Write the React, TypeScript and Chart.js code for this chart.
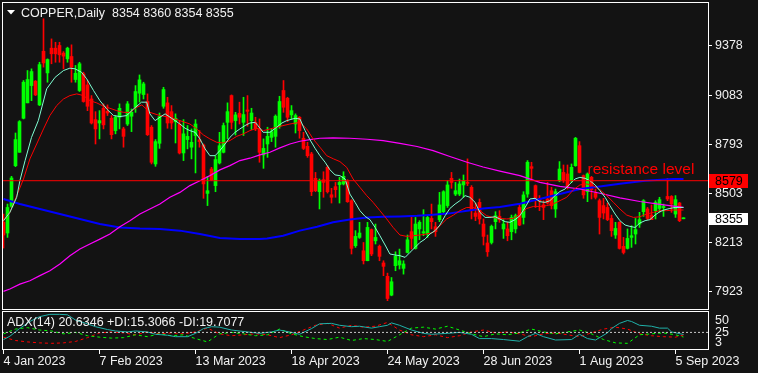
import React, { useEffect, useRef } from "react";
import { Chart, registerables } from "chart.js";

Chart.register(...registerables);

const FONT = "'Liberation Sans', 'DejaVu Sans', sans-serif";
const BG = "#131313";
const TEXT = "#f2f2f2";
const UP = "#00ff00";
const DOWN = "#ff0000";

const symbolTitle = "COPPER,Daily";
const adxTitle = "ADX(14) 20.6346 +DI:15.3066 -DI:19.7077";
const resistanceLabel = "resistance level";
const resistanceLevel = 8579;
const resistanceLabelBar = 146;

const X_MIN = -0.375;
const X_MAX = 176.375;

const opens = [8333,8270,8427,8668,8747,8948,9039,9141,9167,9027, 9344,9216,9362,9362,9378,9333,9299,9313,9177,9112, 9210,9145,9062,8940,8920,9007,8989,8948,8875,8954, 8885,8914,8960,9013,9096,9088,9047,8895,8678,8800, 9019,9039,8987,8928,8914,8743,8822,8777,8846,8820, 8790,8504,8648,8550,8684,8747,8924,9082,8934,8977, 8924,8997,8934,8924,8885,8731,8796,8835,8841,8901, 9112,9066,8968,8914,8954,8830,8782,8737,8593,8514, 8585,8658,8496,8544,8556,8560,8573,8461,8195,8244, 8165,8106,8290,8224,8191,8093,8014,7903,8077,8081, 8061,8155,8278,8179,8294,8270,8264,8356,8307,8349, 8396,8432,8593,8500,8500,8554,8569,8540,8388,8451, 8323,8211,8214,8337,8368,8294,8294,8278,8294,8421, 8362,8500,8662,8550,8475,8436,8471,8520,8412,8579, 8628,8619,8579,8668,8786,8609,8514,8599,8506,8461, 8432,8421,8356,8258,8333,8191,8179,8244,8264,8323, 8396,8412,8376,8402,8415,8420,8486,8486,8382,8447, 8354];
const highs = [8382,8441,8605,8861,8934,9171,9230,9240,9171,9279, 9536,9299,9417,9397,9397,9342,9368,9382,9260,9279, 9220,9171,9082,8987,8993,9033,9027,8964,8964,9033, 8895,9047,9003,9141,9204,9161,9092,8905,8822,8979, 9131,9072,9023,8974,8934,8940,8905,8885,8940,8875, 8796,8605,8658,8727,8865,8920,9039,9086,8983,9043, 9072,9082,9007,8954,8944,8826,8895,8885,8968,9078, 9171,9072,9023,8974,8958,8865,8806,8747,8628,8589, 8632,8668,8534,8569,8599,8632,8585,8467,8284,8333, 8214,8333,8294,8323,8199,8106,8033,8007,8159,8175, 8106,8258,8372,8362,8343,8408,8372,8441,8333,8510, 8520,8579,8628,8569,8589,8613,8708,8550,8447,8471, 8353,8258,8317,8396,8402,8349,8333,8376,8382,8441, 8514,8698,8688,8554,8491,8461,8569,8540,8530,8692, 8672,8672,8678,8835,8810,8613,8625,8605,8530,8471, 8475,8447,8376,8333,8337,8244,8294,8313,8356,8392, 8467,8421,8436,8461,8481,8441,8593,8491,8491,8451, 8360];
const lows = [8181,8244,8421,8662,8747,8944,9039,9052,9082,9023, 9250,9161,9270,9279,9279,9240,9279,9161,9161,9106, 9043,8993,8914,8796,8826,8885,8964,8826,8856,8885, 8777,8905,8869,8983,9043,9062,8846,8678,8664,8770, 9007,8889,8885,8802,8737,8698,8767,8708,8625,8777, 8475,8432,8579,8514,8678,8743,8826,8885,8849,8914, 8846,8901,8881,8875,8688,8652,8717,8810,8777,8889, 8983,8928,8944,8861,8830,8763,8717,8491,8514,8412, 8481,8506,8447,8481,8447,8554,8451,8146,8185,8238, 8087,8106,8136,8205,8106,8018,7870,7899,8047,8057, 8027,8152,8175,8175,8230,8254,8244,8294,8250,8337, 8388,8421,8534,8491,8491,8481,8550,8353,8343,8323, 8199,8132,8205,8294,8333,8238,8224,8230,8270,8313, 8323,8481,8589,8421,8402,8349,8441,8412,8362,8573, 8569,8530,8569,8664,8625,8475,8455,8471,8471,8264, 8353,8343,8250,8238,8175,8146,8175,8185,8205,8303, 8368,8349,8349,8353,8392,8368,8461,8392,8362,8337, 8354];
const closes = [8258,8421,8595,8822,8928,9161,9177,9224,9086,9265, 9275,9295,9329,9329,9323,9315,9362,9250,9214,9270, 9047,9019,8920,8885,8934,8909,8979,8851,8954,9007, 8841,9033,8983,9106,9175,9151,8851,8688,8810,8958, 9118,8920,8920,8948,8743,8856,8841,8806,8914,8810, 8560,8520,8583,8704,8786,8905,8987,8924,8968,8954, 8970,8989,8979,8885,8747,8770,8841,8869,8960,9047, 9013,8954,8993,8964,8875,8770,8727,8514,8520,8579, 8569,8514,8481,8526,8569,8605,8455,8179,8250,8270, 8106,8303,8146,8244,8132,8073,7883,7982,8132,8106, 8087,8230,8238,8323,8333,8278,8362,8337,8278,8436, 8514,8554,8569,8520,8560,8579,8563,8402,8368,8353, 8250,8159,8309,8372,8349,8323,8254,8362,8372,8317, 8495,8688,8652,8475,8459,8421,8447,8432,8514,8648, 8585,8540,8658,8830,8628,8495,8619,8526,8481,8362, 8388,8349,8284,8297,8179,8155,8238,8254,8290,8349, 8461,8356,8349,8451,8467,8427,8471,8441,8467,8343, 8355];

const priceTicks = [7923, 8213, 8503, 8793, 9083, 9378];
const dateTickBars = [0, 24, 48, 72, 96, 120, 144, 168];
const dateTickLabels = ["4 Jan 2023", "7 Feb 2023", "13 Mar 2023", "18 Apr 2023", "24 May 2023", "28 Jun 2023", "1 Aug 2023", "5 Sep 2023"];

// fast moving average (aquamarine)
const fastMaBars = [0,1.6,3.3,4.1,5.4,7,8.7,10.8,12.9,15,16.6,17.9,19.5,20.8,22.5,24.1,25.8,27.5,29.1,30.8,32.5,34.5,35.8,36.6,37.9,39.1,40.4,42.9,44.1,45.4,46.6,47.9,49.1,50.4,51.6,52.9,54.1,55.4,56.6,57.9,59.1,60.4,61.6,62.9,63.6,64.9,66.6,68.3,69.6,70.8,72.9,74.1,75.4,76.6,77.9,79.1,80.4,81.6,82.9,84.1,85.4,86.6,87.9,89.1,90.4,91.6,92.9,94.1,95.4,96.6,97.9,99.1,100.4,101.6,102.9,104.1,105.4,106.6,107.9,109.1,110.4,111.6,112.9,114.1,115.4,116.6,117.9,119.1,120.4,121.6,122.9,124.1,125.4,126.6,127.9,129.1,130.4,131.6,132.9,134.1,135.4,136.6,137.9,139.1,140.4,141.6,142.9,144.1,145.4,146.6,147.9,149.1,150.4,151.6,152.9,154.1,155.4,156.6,157.9,159.1,160.4,161.6,162.9,164.1,165.4,166.6,167.9,169.1,170];
const fastMaValues = [8343,8392,8481,8579,8698,8835,8934,9122,9190,9230,9244,9240,9220,9181,9112,9052,9003,8964,8958,8964,9003,9043,9043,8974,8934,8954,8974,8934,8914,8889,8875,8865,8826,8767,8727,8727,8757,8796,8835,8865,8885,8905,8920,8924,8905,8865,8865,8895,8920,8934,8948,8944,8875,8822,8770,8727,8688,8644,8613,8609,8589,8500,8451,8402,8368,8349,8303,8254,8199,8146,8140,8136,8126,8155,8185,8214,8234,8264,8284,8317,8372,8415,8441,8461,8491,8481,8451,8392,8362,8362,8366,8353,8337,8333,8349,8372,8421,8471,8475,8455,8451,8461,8491,8515,8530,8560,8589,8599,8593,8579,8554,8520,8481,8432,8382,8343,8317,8309,8303,8329,8343,8349,8376,8396,8408,8415,8421,8421,8421];

// slow moving average (red)
const slowMaBars = [0,1.6,3.3,5,6.6,8.3,10,11.6,13.3,15,16.6,18.3,20,21.6,23.3,25,26.6,28.3,30,31.6,33.3,34.6,36.6,39.1,41.6,44.1,46.6,48.3,50,51.6,53.3,55,56.6,58.3,60,61.6,63.3,65,68.3,69.6,71.6,74.1,75.8,77.4,79.1,80.8,82.5,84.1,85.8,87.4,89.1,90.8,92.4,94.1,95.8,97.4,99.1,100.8,102.4,104.1,105.8,107.5,109.1,110.8,112.5,114.1,115.8,117.4,119.1,120.8,122.4,124.1,125.8,127.4,129.1,130.8,132.5,134.1,135.8,137.4,139.6,140.8,142.5,144.1,145.8,147.4,149.1,150.8,152.5,154.1,155.8,157.5,159.1,160.8,162.5,164.1,165.8,167.5,170];
const slowMaValues = [8343,8392,8491,8589,8708,8796,8885,8964,9023,9062,9082,9092,9082,9052,9039,9019,9007,8993,8983,8983,9013,9027,8983,8964,8954,8934,8914,8885,8849,8826,8806,8802,8816,8841,8856,8875,8889,8875,8895,8903,8914,8924,8885,8826,8777,8727,8708,8692,8658,8589,8540,8491,8451,8402,8353,8303,8258,8250,8254,8258,8264,8274,8313,8353,8376,8402,8421,8421,8402,8372,8362,8356,8353,8356,8382,8415,8427,8427,8432,8441,8467,8481,8526,8554,8560,8550,8526,8491,8451,8412,8376,8362,8366,8382,8392,8402,8402,8406,8406];

// long moving average (magenta)
const longMaBars = [0,1.6,4.1,6.6,9.1,11.6,14.1,16.6,19.1,21.6,24.1,26.6,29.1,31.6,34.1,36.6,39.1,41.6,44.1,46.6,49.1,51.6,54.1,56.6,59.1,61.6,64.1,66.6,69.1,71.6,74.1,76.6,79.1,82.4,86.6,90.9,94.9,99.1,103.4,107.4,111.6,115.9,119.9,124.1,129.1,134.1,139.1,144.1,149.1,154.1,159.1,164.1,170];
const longMaValues = [7925,7939,7968,7988,8018,8047,8087,8136,8175,8205,8234,8264,8307,8343,8382,8412,8441,8481,8510,8550,8579,8609,8643,8668,8698,8712,8732,8747,8773,8796,8812,8822,8830,8832,8830,8824,8816,8800,8781,8757,8722,8688,8660,8636,8609,8569,8545,8530,8505,8478,8456,8439,8421];

// very long moving average (blue)
const trendMaBars = [0,4.1,9.1,14.1,19.1,24.1,29.1,34.1,39.1,44.1,49.1,54.1,59.1,64.1,65.9,69.9,74.1,78.4,82.4,86.6,90.9,94.9,99.1,103.4,107.4,111.6,115.9,119.9,124.1,129.1,134.1,139.1,144.1,149.1,154.1,160.4,167.4,170];
const trendMaValues = [8471,8441,8412,8382,8353,8323,8303,8297,8294,8284,8264,8240,8234,8234,8238,8254,8284,8307,8333,8350,8362,8366,8368,8372,8378,8386,8402,8415,8423,8443,8471,8500,8530,8545,8561,8579,8589,8589];

// ADX(14) sub-window
const adxBars = [0,1.6,4,6.6,9,11.6,14,16,18,21,23,26,28,31,33,36,38,41,43,46,48,50,52,54,57,61,64,67,69,72,74,77,79,82,84,87,89,92,94,96,97,99,102,105,107,111,114,117,119,122,125,129,131,133,135,138,142,144,146,148,151,152,154,156,157,159,162,164,166,167,170];
const adxValues = [10,17,33,48,58,63,63,62,51,43,37,31,28,26,28,26,21,19,16,16,23,33,37,36,30,26,23,26,30,25,21,33,43,44,40,37,38,34,37,40,45,40,30,23,21,23,25,21,12,12,10,6.5,16,23,16,9,10,21,12,9,24,33,44,50,48,40,38,34,34,26,20.6];
const diBars = [0,3,6,9,12,15,18,21,24,27,30,33,36,39,42,45,48,51,54,57,60,63,66,69,72,75,78,81,84,87,90,93,96,99,102,105,108,111,114,117,120,123,126,129,132,135,138,141,144,147,150,153,156,159,162,165,168,170];
const plusDI = [22,32,35,30,28,22,25,18,15,13, 14,20,16,22,18,20,12,5,22,25, 22,18,20,32,22,16,12,10,15,8, 12,10,6,20,34,36,32,38,30,22, 16,22,20,24,32,26,22,26,30,22, 10,3,2,20,22,24,20,15.3];
const minusDI = [15,8,5,3,2,3,6,14,24,26, 24,20,26,22,24,22,26,34,22,18, 20,22,20,14,20,30,40,44,34,40, 36,38,46,30,20,16,20,14,18,26, 30,24,26,22,16,22,24,20,16,24, 32,36,32,22,18,16,15,19.7];
const adxLevel = 25;
const adxTicks = [3, 25, 50];

const n = opens.length;
const idx = opens.map((_, i) => i);
const candleColor = idx.map((i) => (closes[i] >= opens[i] ? UP : DOWN));
const pts = (xs: number[], ys: number[]) => xs.map((x, k) => ({ x, y: ys[k] }));

const noPad = (s: any) => {
  s.paddingTop = 0;
  s.paddingBottom = 0;
  s.paddingLeft = 0;
  s.paddingRight = 0;
};

const framePlugin = {
  id: "frame",
  afterDraw(chart: any) {
    const { ctx, chartArea } = chart;
    ctx.save();
    ctx.strokeStyle = "#ffffff";
    ctx.lineWidth = 1;
    ctx.strokeRect(chartArea.left + 0.5, chartArea.top + 0.5, chartArea.right - chartArea.left - 1, chartArea.bottom - chartArea.top - 1);
    ctx.restore();
  },
};

const mainOverlay = {
  id: "mainOverlay",
  afterDraw(chart: any) {
    const { ctx } = chart;
    const ys = chart.scales.y;
    const xs = chart.scales.x;
    ctx.save();
    const ry = ys.getPixelForValue(resistanceLevel);
    ctx.fillStyle = DOWN;
    ctx.font = `15.5px ${FONT}`;
    ctx.textAlign = "left";
    ctx.textBaseline = "alphabetic";
    ctx.fillText(resistanceLabel, xs.getPixelForValue(resistanceLabelBar), ry - 6.5);

    const box = (value: number, fill: string, h: number) => {
      const py = ys.getPixelForValue(value);
      ctx.fillStyle = fill;
      ctx.fillRect(ys.left, Math.round(py - h / 2), 39, h);
      ctx.fillStyle = "#000000";
      ctx.font = `12.5px ${FONT}`;
      ctx.textBaseline = "middle";
      ctx.fillText(String(value), ys.left + 6, py + 0.5);
    };
    box(resistanceLevel, DOWN, 14);
    box(closes[n - 1], "#ffffff", 12);

    ctx.fillStyle = "#ffffff";
    ctx.beginPath();
    ctx.moveTo(7, 10);
    ctx.lineTo(15, 10);
    ctx.lineTo(11, 14.5);
    ctx.closePath();
    ctx.fill();
    ctx.fillStyle = TEXT;
    ctx.font = `12.5px ${FONT}`;
    ctx.textBaseline = "alphabetic";
    ctx.fillText(`${symbolTitle}  ${opens[n - 1]} ${highs[n - 1]} ${lows[n - 1]} ${closes[n - 1]}`, 21, 17);
    ctx.restore();
  },
};

const adxOverlay = {
  id: "adxOverlay",
  afterDraw(chart: any) {
    const { ctx } = chart;
    ctx.save();
    ctx.fillStyle = TEXT;
    ctx.font = `12.5px ${FONT}`;
    ctx.textAlign = "left";
    ctx.textBaseline = "alphabetic";
    ctx.fillText(adxTitle, 7, 16);
    ctx.restore();
  },
};

export default function App() {
  const mainRef = useRef<HTMLCanvasElement>(null);
  const adxRef = useRef<HTMLCanvasElement>(null);

  useEffect(() => {
    const main = new Chart(mainRef.current as HTMLCanvasElement, {
      type: "bar",
      data: {
        datasets: [
          { type: "line", data: [{ x: X_MIN, y: resistanceLevel }, { x: X_MAX, y: resistanceLevel }], borderColor: DOWN, borderWidth: 1, pointRadius: 0 } as any,
          { type: "line", data: pts(fastMaBars, fastMaValues), borderColor: "#7fffd4", borderWidth: 1, pointRadius: 0 } as any,
          { type: "line", data: pts(slowMaBars, slowMaValues), borderColor: "#ff0000", borderWidth: 1, pointRadius: 0 } as any,
          { type: "line", data: pts(longMaBars, longMaValues), borderColor: "#ff00ff", borderWidth: 1.2, pointRadius: 0 } as any,
          { type: "line", data: pts(trendMaBars, trendMaValues), borderColor: "#0000ff", borderWidth: 2, pointRadius: 0 } as any,
          { type: "bar", data: idx.map((i) => ({ x: i, y: [Math.min(opens[i], closes[i]), Math.max(opens[i], closes[i])] })), backgroundColor: candleColor, barThickness: 3, minBarLength: 1, grouped: false, borderWidth: 0 } as any,
          { type: "bar", data: idx.map((i) => ({ x: i, y: [lows[i], highs[i]] })), backgroundColor: candleColor, barThickness: 1, minBarLength: 1, grouped: false, borderWidth: 0 } as any,
        ],
      },
      options: {
        responsive: false,
        maintainAspectRatio: false,
        animation: false,
        events: [],
        layout: { padding: { left: 2, top: 2, right: 0, bottom: 1 } },
        plugins: { legend: { display: false }, tooltip: { enabled: false } },
        scales: {
          x: { type: "linear", min: X_MIN, max: X_MAX, display: false, offset: false },
          y: {
            type: "linear",
            position: "right",
            min: 7815,
            max: 9635,
            afterBuildTicks: (s: any) => { s.ticks = priceTicks.map((v) => ({ value: v })); },
            afterFit: (s: any) => { s.width = 49; noPad(s); },
            grid: { display: true, drawOnChartArea: false, drawTicks: true, tickLength: 3, color: "#ffffff" },
            border: { display: false },
            ticks: { color: TEXT, font: { family: FONT, size: 12.5 }, padding: 3, callback: (v: any) => String(v) },
          },
        },
      } as any,
      plugins: [framePlugin, mainOverlay],
    });

    const adx = new Chart(adxRef.current as HTMLCanvasElement, {
      type: "line",
      data: {
        datasets: [
          { data: [{ x: X_MIN, y: adxLevel }, { x: X_MAX, y: adxLevel }], borderColor: "#c8c8c8", borderWidth: 1, borderDash: [2, 2], pointRadius: 0 },
          { data: pts(adxBars, adxValues), borderColor: "#20b2aa", borderWidth: 1, pointRadius: 0 },
          { data: pts(diBars, plusDI), borderColor: UP, borderWidth: 1, borderDash: [3, 3], pointRadius: 0 },
          { data: pts(diBars, minusDI), borderColor: DOWN, borderWidth: 1, borderDash: [3, 3], pointRadius: 0 },
        ],
      } as any,
      options: {
        responsive: false,
        maintainAspectRatio: false,
        animation: false,
        events: [],
        layout: { padding: { left: 2, top: 1, right: 0, bottom: 0 } },
        plugins: { legend: { display: false }, tooltip: { enabled: false } },
        scales: {
          x: {
            type: "linear",
            position: "bottom",
            min: X_MIN,
            max: X_MAX,
            afterBuildTicks: (s: any) => { s.ticks = dateTickBars.map((v) => ({ value: v })); },
            afterFit: (s: any) => { s.height = 23; noPad(s); },
            grid: { display: true, drawOnChartArea: false, drawTicks: true, tickLength: 4, color: "#ffffff" },
            border: { display: false },
            ticks: { color: TEXT, font: { family: FONT, size: 12.5 }, padding: 0, align: "start", autoSkip: false, maxRotation: 0, callback: (_v: any, i: number) => dateTickLabels[i] },
          },
          y: {
            type: "linear",
            position: "right",
            min: -12,
            max: 70,
            afterBuildTicks: (s: any) => { s.ticks = adxTicks.map((v) => ({ value: v })); },
            afterFit: (s: any) => { s.width = 49; noPad(s); },
            grid: { display: false, drawTicks: false },
            border: { display: false },
            ticks: { color: TEXT, font: { family: FONT, size: 12.5 }, padding: 6, callback: (v: any) => String(v) },
          },
        },
      } as any,
      plugins: [framePlugin, adxOverlay],
    });

    return () => {
      main.destroy();
      adx.destroy();
    };
  }, []);

  return (
    <div style={{ position: "fixed", left: 0, top: 0, width: 758, height: 373, background: BG, overflow: "hidden" }}>
      <canvas ref={mainRef} width={758} height={311} style={{ position: "absolute", left: 0, top: 0, width: 758, height: 311 }} />
      <canvas ref={adxRef} width={758} height={63} style={{ position: "absolute", left: 0, top: 310, width: 758, height: 63 }} />
    </div>
  );
}
